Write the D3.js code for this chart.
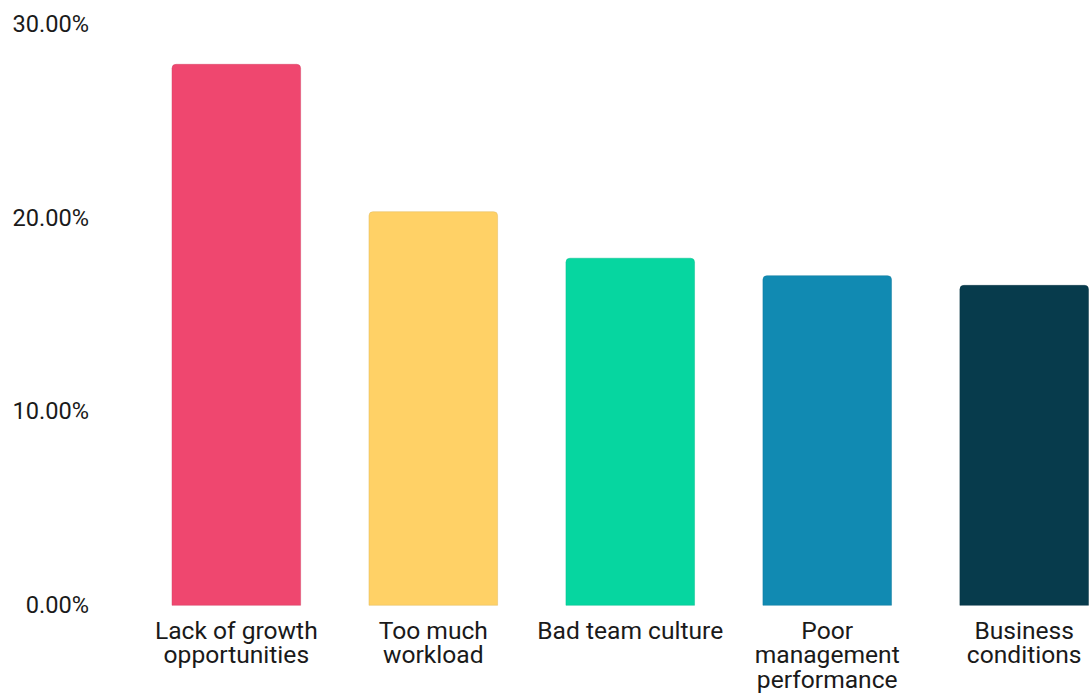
<!DOCTYPE html>
<html>
<head>
<meta charset="utf-8">
<script src="https://cdn.jsdelivr.net/npm/d3@7"></script>
<style>
  html, body { margin: 0; padding: 0; background: #ffffff; }
  svg { display: block; font-family: Roboto, "Noto Sans", sans-serif; }
</style>
</head>
<body>
<svg id="chart" width="1089" height="693"></svg>
<script>
// Share of respondents by reason for leaving
const categories = [
  "Lack of growth opportunities",
  "Too much workload",
  "Bad team culture",
  "Poor management performance",
  "Business conditions"
];
const categoryLines = [
  ["Lack of growth", "opportunities"],
  ["Too much", "workload"],
  ["Bad team culture"],
  ["Poor", "management", "performance"],
  ["Business", "conditions"]
];
const values = [27.9, 20.3, 17.9, 17.0, 16.5];
const barColors = ["#EF476F", "#FFD166", "#06D6A0", "#118AB2", "#073B4C"];
const yTicks = [0, 10, 20, 30];

const svg = d3.select("#chart");

const x = d3.scaleBand()
  .domain(categories)
  .range([172, 1088.5])
  .paddingInner(0.347)
  .paddingOuter(0);

const y = d3.scaleLinear()
  .domain([0, 30])
  .range([605.3, 23.6]);

// Bars with rounded top corners
function barPath(x0, y0, w, h, r) {
  r = Math.min(r, h, w / 2);
  return `M${x0},${y0 + h}` +
    `V${y0 + r}` +
    `Q${x0},${y0} ${x0 + r},${y0}` +
    `H${x0 + w - r}` +
    `Q${x0 + w},${y0} ${x0 + w},${y0 + r}` +
    `V${y0 + h}Z`;
}

svg.append("g")
  .selectAll("path")
  .data(values)
  .join("path")
  .attr("d", (d, i) => barPath(x(categories[i]), y(d), x.bandwidth(), y(0) - y(d), 4))
  .attr("fill", (d, i) => barColors[i])
  .attr("stroke", (d, i) => d3.color(barColors[i]).darker(0.35))
  .attr("stroke-opacity", 0.45)
  .attr("stroke-width", 1);

// Y axis labels (no line, no ticks)
const yAxis = d3.axisLeft(y)
  .tickValues(yTicks)
  .tickFormat(d => d.toFixed(2) + "%")
  .tickSize(0)
  .tickPadding(0);

const yg = svg.append("g")
  .attr("transform", "translate(89,0)")
  .call(yAxis);
yg.select(".domain").remove();
yg.selectAll("text")
  .attr("font-family", "Roboto, sans-serif")
  .attr("font-size", 23.6)
  .attr("fill", "#1a1a1a");

// X axis category labels, wrapped over several lines
const xAxis = d3.axisBottom(x).tickSize(0).tickFormat("");
const xg = svg.append("g")
  .attr("transform", `translate(0,${y(0)})`)
  .call(xAxis);
xg.select(".domain").remove();

xg.selectAll(".tick").each(function(d, i) {
  const t = d3.select(this).append("text")
    .attr("fill", "#1a1a1a")
    .attr("font-family", "Roboto, sans-serif")
    .attr("font-size", 24.6)
    .attr("text-anchor", "middle");
  categoryLines[i].forEach((line, j) => {
    t.append("tspan")
      .attr("x", 0)
      .attr("y", 33.5 + j * 24.5)
      .text(line);
  });
});
</script>
</body>
</html>
